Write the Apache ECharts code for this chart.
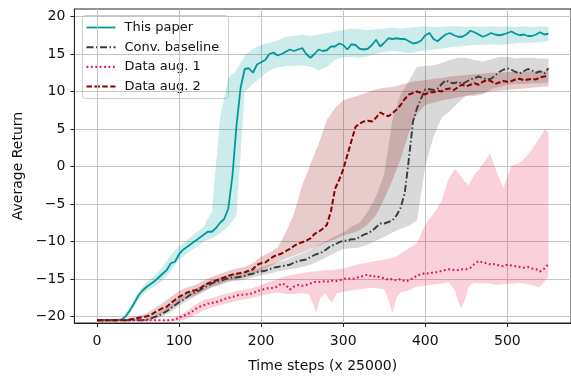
<!DOCTYPE html>
<html><head><meta charset="utf-8">
<script src="https://cdn.jsdelivr.net/npm/echarts@6/dist/echarts.min.js"></script>
<style>html,body{margin:0;padding:0;background:#fff}#c{width:571px;height:378px}</style>
</head><body><div id="c"></div>
<script>
// ---- data ----
const seriesNames = ['This paper', 'Conv. baseline', 'Data aug. 1', 'Data aug. 2'];
const xTicks = [0, 100, 200, 300, 400, 500];
const yTicks = [-20, -15, -10, -5, 0, 5, 10, 15, 20];

// line x positions (step 5)
const lineX = [];
for (let v = 0; v <= 550; v += 5) lineX.push(v);

const thisPaper = [-20.5,-20.5,-20.5,-20.5,-20.5,-20.5,-20.4,-20.0,-19.2,-18.3,-17.3,-16.6,-16.1,-15.7,-15.3,-14.8,-14.3,-13.8,-12.9,-12.7,-11.7,-11.1,-10.7,-10.3,-9.9,-9.5,-9.1,-8.7,-8.7,-8.2,-7.5,-7.0,-5.6,-1.3,5.5,10.5,13.0,13.1,12.5,13.6,13.9,14.2,15.0,15.2,14.8,15.0,15.3,15.6,15.4,15.6,15.8,15.0,14.5,15.0,15.6,15.4,15.5,16.0,16.0,16.4,16.2,15.6,16.3,16.2,15.7,15.6,15.7,16.2,16.9,16.0,16.5,17.1,17.0,17.1,17.0,17.0,16.7,16.4,16.5,16.8,17.5,17.8,17.0,16.7,17.2,17.6,17.8,17.5,17.3,17.3,17.6,18.1,17.9,17.6,17.3,17.5,17.8,17.6,17.5,17.6,17.8,18.0,17.7,17.5,17.6,17.4,17.4,17.6,17.9,17.6,17.7];
const convBaseline = [-20.5,-20.5,-20.5,-20.5,-20.5,-20.5,-20.5,-20.5,-20.5,-20.5,-20.5,-20.5,-20.45,-20.3,-20.1,-19.9,-19.6,-19.3,-18.9,-18.5,-18.1,-17.8,-17.4,-17.0,-16.8,-16.5,-16.2,-15.9,-15.6,-15.4,-15.3,-15.1,-14.9,-14.8,-14.8,-14.7,-14.6,-14.4,-14.3,-14.1,-14.0,-13.9,-13.7,-13.5,-13.4,-13.3,-13.2,-13.1,-12.8,-12.6,-12.5,-12.4,-12.1,-11.8,-11.6,-11.4,-11.0,-10.6,-10.4,-10.1,-9.9,-9.9,-9.7,-9.7,-9.4,-9.1,-8.9,-8.6,-8.1,-7.6,-7.6,-7.4,-7.2,-6.5,-5.5,-3.5,1.0,6.0,7.8,9.1,10.3,10.3,10.2,10.4,11.0,11.5,11.2,11.1,11.3,11.0,11.3,11.6,11.8,12.0,11.8,11.6,11.7,12.1,12.6,12.9,13.1,12.9,12.6,12.4,12.7,13.0,12.8,12.5,12.7,12.4,13.1];
const dataAug1 = [-20.5,-20.5,-20.5,-20.5,-20.5,-20.5,-20.5,-20.5,-20.5,-20.5,-20.5,-20.5,-20.5,-20.5,-20.5,-20.5,-20.5,-20.5,-20.5,-20.4,-20.2,-19.9,-19.7,-19.4,-19.0,-18.7,-18.5,-18.3,-18.2,-18.1,-17.9,-17.7,-17.5,-17.4,-17.2,-17.1,-17.1,-17.0,-16.9,-16.6,-16.5,-16.3,-16.2,-16.2,-16.0,-15.6,-15.8,-16.4,-16.0,-15.8,-15.9,-15.8,-15.6,-15.4,-15.4,-15.3,-15.4,-15.2,-15.3,-15.2,-15.0,-14.9,-15.0,-14.9,-14.7,-14.6,-14.4,-14.7,-14.6,-14.8,-14.9,-15.1,-15.0,-15.2,-15.0,-15.3,-15.2,-14.9,-14.5,-14.4,-14.2,-14.3,-14.1,-14.1,-13.9,-13.8,-13.7,-13.8,-13.8,-13.7,-13.7,-13.5,-13.0,-12.6,-12.8,-12.9,-13.1,-13.0,-13.2,-13.3,-13.1,-13.2,-13.3,-13.4,-13.5,-13.4,-13.6,-13.7,-14.0,-13.6,-13.0];
const dataAug2 = [-20.5,-20.5,-20.5,-20.5,-20.5,-20.5,-20.5,-20.5,-20.4,-20.3,-20.2,-20.1,-20.0,-19.8,-19.5,-19.2,-18.9,-18.7,-18.2,-17.8,-17.4,-17.1,-16.8,-16.6,-16.5,-16.3,-15.9,-15.6,-15.4,-15.2,-15.0,-14.8,-14.6,-14.4,-14.3,-14.2,-14.1,-13.9,-13.7,-13.1,-12.9,-12.8,-12.4,-12.0,-11.8,-11.6,-11.3,-11.0,-10.6,-10.3,-10.1,-9.9,-9.6,-9.0,-8.7,-8.3,-7.8,-6.0,-3.0,-1.8,-0.4,1.5,3.4,5.3,5.7,6.0,6.1,6.0,6.5,7.2,6.9,6.7,7.1,7.6,8.2,9.0,9.6,9.8,10.0,9.8,9.6,9.9,9.9,10.1,10.0,10.3,10.4,10.2,10.6,10.9,10.7,10.9,11.1,10.9,11.3,11.5,11.4,11.0,11.2,11.4,11.3,11.4,11.6,11.7,11.5,11.6,11.7,11.6,11.9,12.0,12.1];

// band x positions (step 10) for three bands
const bandX = [];
for (let v = 0; v <= 550; v += 10) bandX.push(v);

const thisPaperLo = [-20.6,-20.6,-20.6,-20.6,-19.6,-17.8,-16.7,-16.0,-15.2,-13.9,-12.4,-11.6,-10.8,-10.0,-9.6,-8.9,-8.0,-6.5,10.0,11.0,11.9,12.8,13.2,13.4,13.4,13.5,13.3,12.8,13.3,14.2,14.6,14.6,14.5,14.7,15.0,15.3,15.4,15.3,15.1,15.3,15.5,15.6,15.7,15.9,16.0,16.1,16.2,16.2,16.3,16.2,16.3,16.4,16.5,16.5,16.6,16.7];
const thisPaperHi = [-20.4,-20.4,-20.4,-20.2,-18.8,-16.8,-15.5,-14.6,-13.4,-11.8,-10.6,-9.8,-8.9,-8.0,-6.0,6.5,11.8,12.8,14.8,15.7,16.2,16.5,16.8,17.3,17.4,17.6,17.4,17.6,17.8,18.0,18.2,18.4,18.3,18.2,18.3,18.4,18.5,18.4,18.5,18.6,18.7,18.6,18.6,18.7,18.7,18.6,18.7,18.6,18.7,18.6,18.7,18.6,18.7,18.6,18.7,18.6];
const convLo = [-20.6,-20.6,-20.6,-20.6,-20.6,-20.6,-20.6,-20.4,-20.0,-19.4,-18.6,-17.9,-17.3,-16.7,-16.1,-15.8,-15.4,-15.3,-15.1,-14.8,-14.5,-14.3,-14.0,-13.8,-13.6,-13.4,-13.1,-12.6,-12.1,-11.5,-11.0,-10.9,-10.8,-10.4,-9.9,-9.4,-8.8,-8.3,-7.9,-7.2,0.0,4.0,6.5,7.4,8.5,9.5,9.4,9.6,10.3,10.6,10.9,11.0,11.0,11.1,11.1,11.2];
const convHi = [-20.4,-20.4,-20.4,-20.4,-20.4,-20.4,-20.3,-19.8,-19.2,-18.4,-17.6,-16.9,-16.3,-15.7,-15.1,-14.8,-14.4,-14.3,-14.1,-13.8,-13.5,-13.1,-12.8,-12.5,-12.0,-11.6,-11.1,-10.5,-9.9,-9.3,-8.8,-8.0,-7.5,-6.0,-4.0,-1.0,6.3,9.6,11.4,13.3,13.4,13.5,13.8,14.2,14.5,14.5,14.2,14.0,14.3,14.6,14.6,14.4,14.5,14.5,14.4,14.4];
const aug2Lo = [-20.6,-20.6,-20.6,-20.6,-20.6,-20.5,-20.4,-20.1,-19.6,-19.0,-18.2,-17.5,-17.2,-16.6,-16.1,-15.7,-15.3,-15.0,-14.8,-14.4,-13.9,-13.3,-12.8,-12.3,-11.9,-11.5,-11.0,-10.6,-10.1,-9.7,-9.2,-8.9,-8.5,-7.7,-6.5,-4.3,-1.8,1.0,4.5,7.0,8.2,8.5,8.8,9.0,9.2,9.4,9.6,9.8,10.0,10.1,10.2,10.3,10.4,10.5,10.6,10.7];
const aug2Hi = [-20.4,-20.4,-20.4,-20.4,-20.2,-19.9,-19.6,-18.9,-18.2,-17.4,-16.6,-16.1,-15.8,-15.2,-14.7,-14.3,-13.9,-13.6,-13.4,-12.9,-12.0,-11.5,-10.8,-8.8,-6.3,-2.5,0.3,3.0,6.2,7.8,8.8,9.2,9.5,9.9,10.3,10.5,10.6,10.9,11.2,11.4,11.5,11.7,11.8,12.0,12.1,12.2,12.3,12.4,12.5,12.5,12.6,12.6,12.6,12.7,12.7,12.7];

// Data aug. 1 band has its own, irregular x positions
const aug1BandX = [0,90,100,110,120,130,140,150,160,170,180,190,200,210,220,230,240,250,258,263,267,272,278,283,287,292,300,310,320,330,340,350,355,360,365,370,380,390,400,405,412,420,428,436,440,444,448,453,459,466,472,479,487,495,505,513,520,530,538,542,546,550];
const aug1Hi = [-20.4,-20.4,-19.9,-19.2,-18.4,-17.8,-17.5,-17.2,-16.9,-16.6,-16.4,-16.2,-15.8,-15.4,-15.0,-14.6,-14.4,-14.2,-14.1,-14.0,-14.0,-13.9,-13.8,-13.8,-13.8,-13.7,-13.6,-13.3,-13.0,-12.8,-12.6,-12.4,-12.3,-12.2,-12.0,-11.6,-10.9,-10.2,-7.7,-7.0,-6.0,-4.5,-1.8,-0.3,-0.8,-1.4,-2.0,-2.5,-1.2,-0.3,0.6,1.7,-0.7,-2.9,0.1,0.35,1.0,2.3,3.6,4.3,5.0,4.5];
const aug1Lo = [-20.6,-20.6,-20.6,-20.3,-19.8,-19.2,-18.8,-18.5,-18.2,-17.9,-17.7,-17.5,-17.2,-17.0,-16.8,-17.0,-17.0,-16.9,-17.0,-18.3,-19.5,-17.6,-16.9,-17.8,-18.1,-16.9,-16.7,-16.5,-16.4,-16.2,-16.2,-16.4,-17.8,-19.5,-17.5,-16.8,-16.5,-16.0,-15.9,-15.8,-15.7,-15.6,-15.4,-16.5,-18.0,-18.9,-17.8,-16.0,-15.5,-15.6,-15.6,-15.6,-15.8,-15.7,-15.6,-15.5,-15.6,-15.8,-16.1,-15.8,-15.2,-14.8];

// ---- chart ----
const FONT = 'DejaVu Sans';
const colors = ['#009999', '#3a3a3a', '#e8174a', '#8b0000'];
const dashes = ['solid', [7, 2.5, 1.5, 2.5], [1.8, 2.6], [5.5, 2.4]];
const widths = [1.8, 1.9, 2.1, 2.0];

function bandSeries(name, xs, lo, hi, fill, z) {
  const data = xs.map((x, i) => [x, lo[i], hi[i]]);
  return {
    type: 'custom', name: name, silent: true, z: z,
    encode: { x: 0, y: [1, 2] },
    data: data,
    renderItem: function (params, api) {
      if (params.dataIndex !== 0) return null;
      const pts = [];
      for (let i = 0; i < data.length; i++) pts.push(api.coord([data[i][0], data[i][2]]));
      for (let i = data.length - 1; i >= 0; i--) pts.push(api.coord([data[i][0], data[i][1]]));
      return { type: 'polygon', shape: { points: pts }, style: { fill: fill } };
    }
  };
}

function lineSeries(idx, ys) {
  return {
    type: 'line', name: seriesNames[idx], z: 10,
    data: lineX.map((x, i) => [x, ys[i]]),
    showSymbol: false, symbol: 'none',
    lineStyle: { color: colors[idx], width: widths[idx], type: dashes[idx] },
    itemStyle: { color: colors[idx] },
    animation: false
  };
}

// legend drawn as graphic
const legendTop = 15, legendLeft = 82, rowGap = 19.7;
const legendChildren = [{
  type: 'rect', shape: { x: 0, y: 0, width: 146, height: 83, r: 3 },
  style: { fill: 'rgba(255,255,255,0.85)', stroke: '#cccccc', lineWidth: 1 }
}];
seriesNames.forEach((n, i) => {
  const cy = 12 + i * rowGap;
  legendChildren.push({
    type: 'line', shape: { x1: 4, y1: cy, x2: 33, y2: cy },
    style: { stroke: colors[i], lineWidth: widths[i], lineDash: dashes[i] === 'solid' ? null : dashes[i] }
  });
  legendChildren.push({
    type: 'text', x: 42, y: cy,
    style: { text: n, fontFamily: FONT, fontSize: 13, fill: '#111', verticalAlign: 'middle', align: 'left' }
  });
});

const fmtMinus = v => (v < 0 ? '\u2212' + Math.abs(v) : String(v));

const chart = echarts.init(document.getElementById('c'), null, { renderer: 'canvas' });
chart.setOption({
  animation: false,
  backgroundColor: '#fff',
  grid: { left: 74.4, top: 9, width: 497.7, height: 322.7, show: true, borderColor: '#222', borderWidth: 1, containLabel: false },
  graphic: [{ type: 'group', left: legendLeft, top: legendTop, z: 100, children: legendChildren }],
  xAxis: {
    type: 'value', min: -27.5, max: 577.5,
    name: 'Time steps (x 25000)', nameLocation: 'middle', nameGap: 36,
    nameTextStyle: { fontFamily: FONT, fontSize: 14, color: '#111' },
    axisLine: { show: true, onZero: false, lineStyle: { color: '#222', width: 1 } },
    axisTick: { show: true, length: 4, customValues: xTicks, lineStyle: { color: '#222' } },
    axisLabel: { customValues: xTicks, fontFamily: FONT, fontSize: 14, color: '#111', margin: 11 },
    splitLine: { show: true, lineStyle: { color: '#c4c4c4', width: 1 } }
  },
  yAxis: {
    type: 'value', min: -20.87, max: 21.0,
    name: 'Average Return', nameLocation: 'middle', nameGap: 42,
    nameTextStyle: { fontFamily: FONT, fontSize: 14, color: '#111' },
    axisLine: { show: true, onZero: false, lineStyle: { color: '#222', width: 1 } },
    axisTick: { show: true, length: 4, customValues: yTicks, lineStyle: { color: '#222' } },
    axisLabel: { customValues: yTicks, fontFamily: FONT, fontSize: 14, color: '#111', margin: 9, formatter: fmtMinus },
    splitLine: { show: true, lineStyle: { color: '#c4c4c4', width: 1 } }
  },
  series: [
    bandSeries('b_paper', bandX, thisPaperLo, thisPaperHi, 'rgba(0,153,153,0.2)', 1),
    bandSeries('b_conv', bandX, convLo, convHi, 'rgba(64,64,64,0.2)', 2),
    bandSeries('b_aug1', aug1BandX, aug1Lo, aug1Hi, 'rgba(232,23,74,0.2)', 3),
    bandSeries('b_aug2', bandX, aug2Lo, aug2Hi, 'rgba(139,0,0,0.2)', 4),
    lineSeries(0, thisPaper),
    lineSeries(1, convBaseline),
    lineSeries(2, dataAug1),
    lineSeries(3, dataAug2)
  ]
});
</script>
</body></html>
